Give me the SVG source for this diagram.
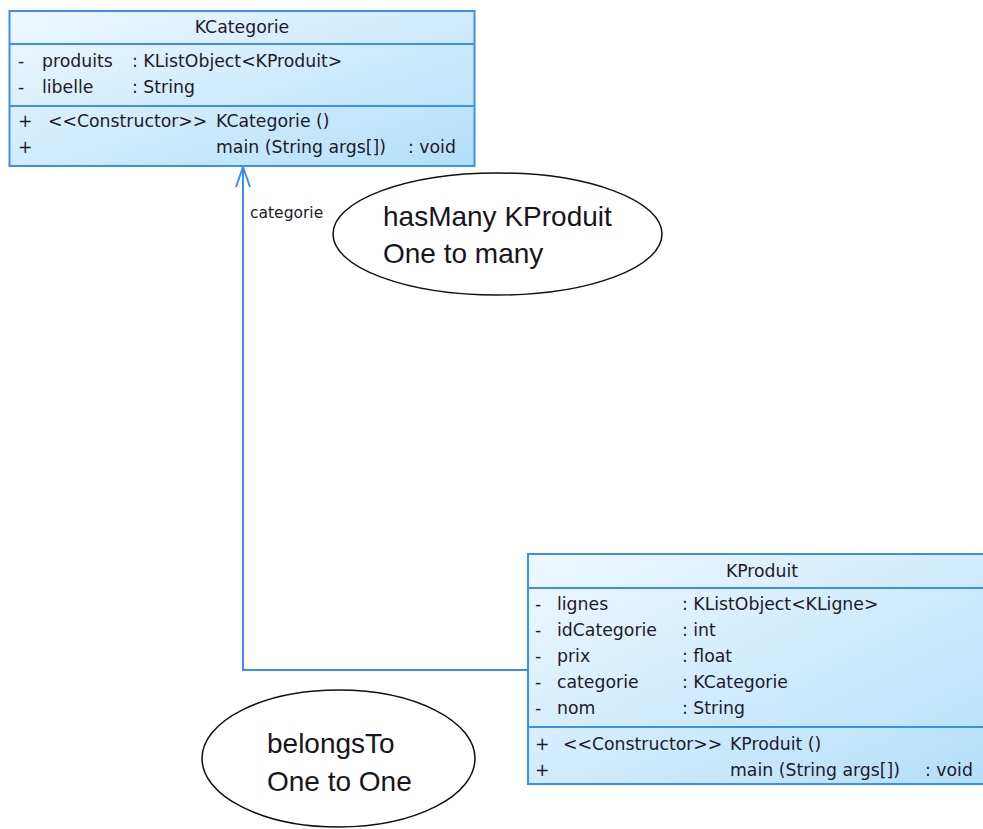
<svg xmlns="http://www.w3.org/2000/svg" width="983" height="829" viewBox="0 0 983 829">
<defs>
<linearGradient id="fill" x1="0" y1="0" x2="1" y2="1">
<stop offset="0" stop-color="#eef8ff"/>
<stop offset="1" stop-color="#b3dff9"/>
</linearGradient>
<style>
.box{fill:url(#fill);stroke:#3a8ff0;stroke-width:2}
.sep{stroke:#3a8ff0;stroke-width:2}
.t{font-family:"DejaVu Sans",sans-serif;font-size:17.3px;fill:#1e1a2a}
.c{text-anchor:middle}
.note{fill:none;stroke:#111;stroke-width:1.5}
.nt{font-family:"Liberation Sans",sans-serif;font-size:28px;fill:#1a1420}
.conn{fill:none;stroke:#3a8ff0;stroke-width:2}
</style>
</defs>
<rect width="983" height="829" fill="#ffffff"/>
<g id="connectors">
<polyline class="conn" points="528,670 243,670 243,167"/>
<polyline class="conn" points="236,187 243,167 250,187"/>
<text class="t" x="250" y="218" style="font-size:15.5px">categorie</text>
</g>
<g id="KCategorie">
<rect class="box" x="9.5" y="11" width="465" height="155"/>
<line class="sep" x1="9.5" y1="44" x2="474.5" y2="44"/>
<line class="sep" x1="9.5" y1="106" x2="474.5" y2="106"/>
<text class="t c" x="242" y="33">KCategorie</text>
<text class="t" x="18" y="67">-</text><text class="t" x="42" y="67">produits</text><text class="t" x="132" y="67">: KListObject&lt;KProduit&gt;</text>
<text class="t" x="18" y="93">-</text><text class="t" x="42" y="93">libelle</text><text class="t" x="132" y="93">: String</text>
<text class="t" x="18" y="127">+</text><text class="t" x="48" y="127">&lt;&lt;Constructor&gt;&gt;</text><text class="t" x="216" y="127">KCategorie ()</text>
<text class="t" x="18" y="153">+</text><text class="t" x="216" y="153">main (String args[])</text><text class="t" x="408" y="153">: void</text>
</g>
<g id="KProduit">
<rect class="box" x="528" y="554" width="470" height="230"/>
<line class="sep" x1="528" y1="588" x2="983" y2="588"/>
<line class="sep" x1="528" y1="727" x2="983" y2="727"/>
<text class="t c" x="762" y="577">KProduit</text>
<text class="t" x="535" y="610">-</text><text class="t" x="557" y="610">lignes</text><text class="t" x="682" y="610">: KListObject&lt;KLigne&gt;</text>
<text class="t" x="535" y="636">-</text><text class="t" x="557" y="636">idCategorie</text><text class="t" x="682" y="636">: int</text>
<text class="t" x="535" y="662">-</text><text class="t" x="557" y="662">prix</text><text class="t" x="682" y="662">: float</text>
<text class="t" x="535" y="688">-</text><text class="t" x="557" y="688">categorie</text><text class="t" x="682" y="688">: KCategorie</text>
<text class="t" x="535" y="714">-</text><text class="t" x="557" y="714">nom</text><text class="t" x="682" y="714">: String</text>
<text class="t" x="535" y="750">+</text><text class="t" x="563" y="750">&lt;&lt;Constructor&gt;&gt;</text><text class="t" x="730" y="750">KProduit ()</text>
<text class="t" x="535" y="776">+</text><text class="t" x="730" y="776">main (String args[])</text><text class="t" x="925" y="776">: void</text>
</g>
<g id="note-hasMany">
<ellipse class="note" cx="497.5" cy="234" rx="164.5" ry="61"/>
<text class="nt" x="383" y="226">hasMany KProduit</text>
<text class="nt" x="383" y="263">One to many</text>
</g>
<g id="note-belongsTo">
<ellipse class="note" cx="338.5" cy="758.5" rx="136.5" ry="68.5"/>
<text class="nt" x="267" y="753">belongsTo</text>
<text class="nt" x="267" y="791">One to One</text>
</g>
</svg>
